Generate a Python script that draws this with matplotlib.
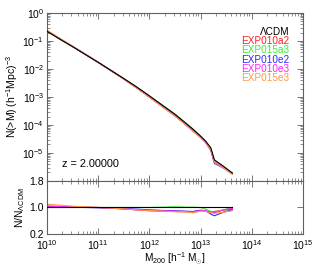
import matplotlib

matplotlib.use("Agg")
import matplotlib.pyplot as plt
import numpy as np
from matplotlib.ticker import LogLocator, NullFormatter, FixedLocator

# ---- data (log10 M200, log10 N for LCDM, ratios per model) ----
log_m = [10.0, 10.25, 10.5, 10.75, 11.0, 11.25, 11.5, 11.75, 12.0, 12.25,
         12.5, 12.7, 12.85, 13.0, 13.1, 13.2, 13.27, 13.45, 13.62]
log_n_lcdm = [-0.65, -0.93, -1.20, -1.48, -1.76, -2.05, -2.34, -2.64, -2.96, -3.29,
              -3.62, -3.92, -4.15, -4.40, -4.58, -4.82, -5.25, -5.48, -5.72]

ratio_exp010a2 = [1.04, 1.03, 1.02, 1.01, 1.00, 0.98, 0.95, 0.93, 0.90, 0.89,
                  0.88, 0.87, 0.86, 0.90, 0.89, 0.86, 0.88, 0.92, 0.95]
ratio_exp015a3 = [1.00, 1.00, 1.00, 1.00, 1.00, 1.00, 1.00, 1.00, 1.00, 1.01,
                  1.02, 1.01, 1.01, 1.00, 0.95, 0.88, 0.85, 0.93, 1.00]
ratio_exp010e2 = [1.03, 1.02, 1.01, 1.00, 0.99, 0.98, 0.97, 0.95, 0.93, 0.91,
                  0.90, 0.89, 0.88, 0.92, 0.90, 0.80, 0.75, 0.86, 0.93]
ratio_exp010e3 = [1.04, 1.03, 1.02, 1.01, 1.00, 0.98, 0.96, 0.93, 0.91, 0.90,
                  0.89, 0.88, 0.87, 0.91, 0.90, 0.87, 0.84, 0.93, 0.97]
ratio_exp015e3 = [1.10, 1.07, 1.04, 1.02, 1.00, 0.98, 0.96, 0.93, 0.91, 0.89,
                  0.87, 0.87, 0.84, 0.89, 0.88, 0.84, 0.82, 0.86, 0.90]

models = ["EXP010a2", "EXP015a3", "EXP010e2", "EXP010e3", "EXP015e3"]
ratios = [ratio_exp010a2, ratio_exp015a3, ratio_exp010e2, ratio_exp010e3, ratio_exp015e3]
colors = ["#ff2020", "#33ee33", "#2a2aff", "#ff22ff", "#ff9a40"]

plt.rcParams.update({
    "font.family": ["Liberation Sans", "DejaVu Sans"],
    "font.size": 7.5,
    "mathtext.fontset": "custom",
    "mathtext.rm": "Liberation Sans",
    "mathtext.it": "Liberation Sans",
    "axes.edgecolor": "#606060",
    "axes.linewidth": 0.8,
    "xtick.color": "#606060",
    "ytick.color": "#606060",
    "xtick.labelcolor": "black",
    "ytick.labelcolor": "black",
})

mass = 10.0 ** np.array(log_m)
n_lcdm = 10.0 ** np.array(log_n_lcdm)

fig = plt.figure(figsize=(3.19, 2.66), dpi=100)
ax1 = fig.add_axes([0.147, 0.32, 0.803, 0.631])
ax2 = fig.add_axes([0.147, 0.12, 0.803, 0.20], sharex=ax1)

# ---- top panel: cumulative mass function ----
ax1.plot(mass, n_lcdm, color="black", lw=0.8, zorder=5)
for r, c in zip(ratios, colors):
    ax1.plot(mass, n_lcdm * np.array(r), color=c, lw=0.8)
ax1.set_xscale("log")
ax1.set_yscale("log")
ax1.set_xlim(1e10, 1e15)
ax1.set_ylim(1e-6, 1)
ax1.set_yticks([1e-6, 1e-5, 1e-4, 1e-3, 1e-2, 1e-1, 1])
ax1.set_yticklabels(["", "$10^{-5}$", "$10^{-4}$", "$10^{-3}$", "$10^{-2}$", "$10^{-1}$", "$10^{0}$"])
ax1.yaxis.set_minor_locator(LogLocator(base=10, subs=np.arange(2, 10), numticks=20))
ax1.yaxis.set_minor_formatter(NullFormatter())
ax1.tick_params(axis="x", labelbottom=False)
ax1.set_ylabel("N(>M) (h$^{-1}$Mpc)$^{-3}$", labelpad=2)
ax1.text(0.06, 0.08, "z = 2.00000", transform=ax1.transAxes, fontsize=7.8)

labels = ["ΛCDM"] + models
lab_colors = ["black"] + colors
for i, (t, c) in enumerate(zip(labels, lab_colors)):
    ax1.text(0.947, 0.885 - i * 0.054, t, color=c, ha="right", va="center",
             transform=ax1.transAxes, fontsize=7.2)

# ---- bottom panel: ratio to LCDM ----
ax2.plot(mass, np.ones(len(mass)), color="black", lw=0.8, zorder=5)
for r, c in zip(ratios, colors):
    ax2.plot(mass, r, color=c, lw=0.8)
ax2.set_ylim(0.2, 1.8)
ax2.yaxis.set_major_locator(FixedLocator([0.2, 1.0, 1.8]))
ax2.set_yticklabels(["0.2", "1.0", "1.8"])
ax2.set_xticks([1e10, 1e11, 1e12, 1e13, 1e14, 1e15])
ax2.set_xticklabels(["$10^{10}$", "$10^{11}$", "$10^{12}$", "$10^{13}$", "$10^{14}$", "$10^{15}$"])
ax2.xaxis.set_minor_locator(LogLocator(base=10, subs=np.arange(2, 10), numticks=20))
ax2.xaxis.set_minor_formatter(NullFormatter())
ax2.set_ylabel("N/N$_{\\Lambda CDM}$", labelpad=2)
ax2.set_xlabel("M$_{200}$ [h$^{-1}$ M$_{\\odot}$]", labelpad=-1, fontsize=7.3)

for ax in (ax1, ax2):
    ax.tick_params(which="both", direction="in", top=True, right=True, pad=2)
    ax.tick_params(which="major", length=4, width=0.6)
    ax.tick_params(which="minor", length=2, width=0.5)
ax2.tick_params(axis="x", pad=3)

fig.savefig("out.png", dpi=100)
